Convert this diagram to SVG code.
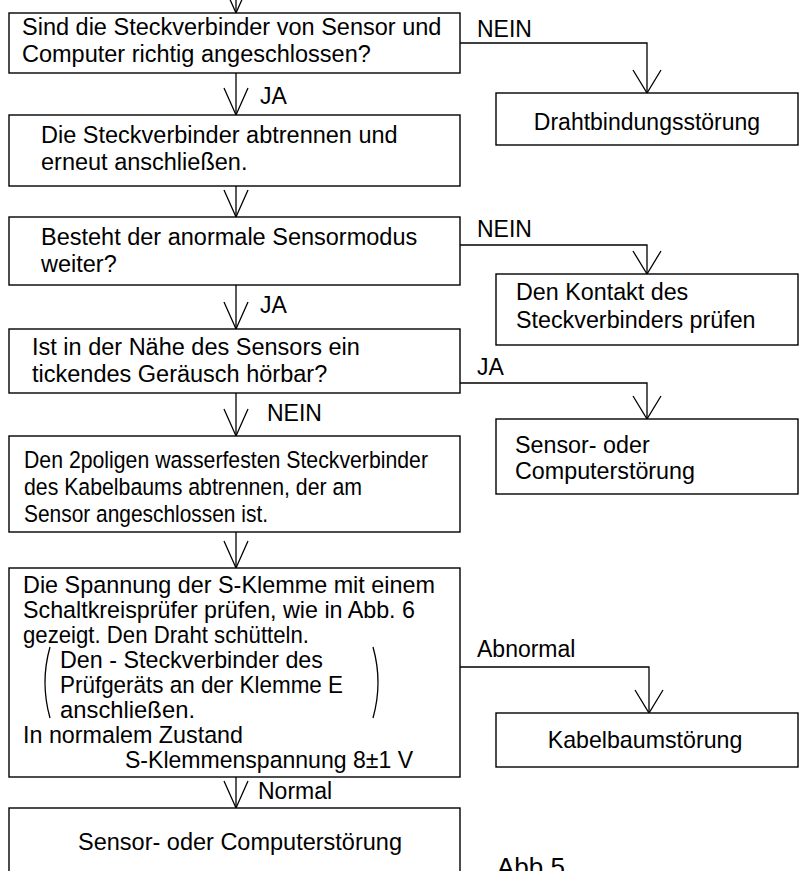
<svg xmlns="http://www.w3.org/2000/svg" width="805" height="871" viewBox="0 0 805 871">
<style>
.box{fill:#fff;stroke:#000;stroke-width:1.4}
.t{font-family:"Liberation Sans",Arial,sans-serif;font-size:23.5px;fill:#000}
.c{font-family:"Liberation Sans",Arial,sans-serif;fill:#000}
.lbl{font-family:"Liberation Sans",Arial,sans-serif;font-size:23px;fill:#000}
.ln{fill:none;stroke:#000;stroke-width:1.3}
</style>
<defs>
<marker id="va" viewBox="-30 -15 32 30" refX="0" refY="0" markerWidth="32" markerHeight="30" markerUnits="userSpaceOnUse" orient="auto">
<path d="M-27,-12 L0,0 L-27,12" fill="none" stroke="#000" stroke-width="1.3"/>
</marker>
<marker id="vb" viewBox="-30 -16 32 32" refX="0" refY="0" markerWidth="32" markerHeight="32" markerUnits="userSpaceOnUse" orient="auto">
<path d="M-23,-14 L0,0 L-23,14" fill="none" stroke="#000" stroke-width="1.3"/>
</marker>
</defs>
<rect width="805" height="871" fill="#fff"/>

<g id="connectors">
<path class="ln" d="M236,-20 V13" marker-end="url(#va)"/>
<path class="ln" d="M236,73 V115" marker-end="url(#va)"/>
<path class="ln" d="M460,43 H647 V93" marker-end="url(#vb)"/>
<path class="ln" d="M236,186 V217" marker-end="url(#va)"/>
<path class="ln" d="M460,245 H647 V274" marker-end="url(#vb)"/>
<path class="ln" d="M236,285 V329" marker-end="url(#va)"/>
<path class="ln" d="M460,383 H647 V419" marker-end="url(#vb)"/>
<path class="ln" d="M236,393 V436" marker-end="url(#va)"/>
<path class="ln" d="M236,532 V568" marker-end="url(#va)"/>
<path class="ln" d="M460,667 H649 V713" marker-end="url(#vb)"/>
<path class="ln" d="M236,777 V808" marker-end="url(#va)"/>
<text class="lbl" x="477" y="37">NEIN</text>
<text class="lbl" x="260" y="104">JA</text>
<text class="lbl" x="477" y="237">NEIN</text>
<text class="lbl" x="260" y="313">JA</text>
<text class="lbl" x="477" y="375">JA</text>
<text class="lbl" x="267" y="421">NEIN</text>
<text class="lbl" x="477" y="657">Abnormal</text>
<text class="lbl" x="258" y="799">Normal</text>
</g>

<g id="q1">
<rect class="box" x="9" y="13" width="451" height="60"/>
<text class="t" x="22" y="35">Sind die Steckverbinder von Sensor und</text>
<text class="t" x="22" y="62">Computer richtig angeschlossen?</text>
</g>

<g id="r1">
<rect class="box" x="496" y="93" width="302" height="52"/>
<text class="t" x="647" y="130" text-anchor="middle" style="font-size:23px">Drahtbindungsstörung</text>
</g>

<g id="s1">
<rect class="box" x="9" y="115" width="451" height="71"/>
<text class="t" x="41" y="143">Die Steckverbinder abtrennen und</text>
<text class="t" x="41" y="170">erneut anschließen.</text>
</g>

<g id="q2">
<rect class="box" x="9" y="217" width="451" height="68"/>
<text class="t" x="41" y="245">Besteht der anormale Sensormodus</text>
<text class="t" x="41" y="272">weiter?</text>
</g>

<g id="r2">
<rect class="box" x="496" y="274" width="302" height="71"/>
<text class="t" x="516" y="300" style="font-size:23.3px">Den Kontakt des</text>
<text class="t" x="516" y="328" style="font-size:23.3px">Steckverbinders prüfen</text>
</g>

<g id="q3">
<rect class="box" x="9" y="329" width="451" height="64"/>
<text class="t" x="32" y="355">Ist in der Nähe des Sensors ein</text>
<text class="t" x="32" y="382">tickendes Geräusch hörbar?</text>
</g>

<g id="r3">
<rect class="box" x="496" y="419" width="302" height="75"/>
<text class="t" x="515" y="453" style="font-size:23.3px">Sensor- oder</text>
<text class="t" x="515" y="479" style="font-size:23.3px">Computerstörung</text>
</g>

<g id="s2">
<rect class="box" x="9" y="436" width="451" height="96"/>
<text class="c" x="24" y="468" font-size="24.5" textLength="404" lengthAdjust="spacingAndGlyphs">Den 2poligen wasserfesten Steckverbinder</text>
<text class="c" x="24" y="495" font-size="24.5" textLength="338" lengthAdjust="spacingAndGlyphs">des Kabelbaums abtrennen, der am</text>
<text class="c" x="24" y="522" font-size="24.5" textLength="244" lengthAdjust="spacingAndGlyphs">Sensor angeschlossen ist.</text>
</g>

<g id="q4">
<rect class="box" x="9" y="568" width="451" height="209"/>
<text class="c" x="23" y="593" font-size="24.5" textLength="412" lengthAdjust="spacingAndGlyphs">Die Spannung der S-Klemme mit einem</text>
<text class="c" x="23" y="618" font-size="24.5" textLength="392" lengthAdjust="spacingAndGlyphs">Schaltkreisprüfer prüfen, wie in Abb. 6</text>
<text class="c" x="23" y="643" font-size="24.5" textLength="286" lengthAdjust="spacingAndGlyphs">gezeigt. Den Draht schütteln.</text>
<path class="ln" d="M50,647 Q40,682.5 50,718"/>
<path class="ln" d="M373,647 Q383,682.5 373,718"/>
<text class="c" x="60" y="668" font-size="24.5" textLength="263" lengthAdjust="spacingAndGlyphs">Den - Steckverbinder des</text>
<text class="c" x="60" y="693" font-size="24.5" textLength="283" lengthAdjust="spacingAndGlyphs">Prüfgeräts an der Klemme E</text>
<text class="c" x="60" y="718" font-size="24.5" textLength="135" lengthAdjust="spacingAndGlyphs">anschließen.</text>
<text class="c" x="23" y="743" font-size="24.5" textLength="220" lengthAdjust="spacingAndGlyphs">In normalem Zustand</text>
<text class="c" x="125" y="768" font-size="24.5" textLength="288" lengthAdjust="spacingAndGlyphs">S-Klemmenspannung 8±1 V</text>
</g>

<g id="r4">
<rect class="box" x="496" y="713" width="302" height="54"/>
<text class="t" x="645" y="748" text-anchor="middle" style="font-size:23.2px">Kabelbaumstörung</text>
</g>

<g id="s3">
<rect class="box" x="9" y="808" width="451" height="80"/>
<text class="t" x="240" y="850" text-anchor="middle">Sensor- oder Computerstörung</text>
</g>

<text class="c" x="497" y="876" font-size="26">Abb.5</text>
</svg>
